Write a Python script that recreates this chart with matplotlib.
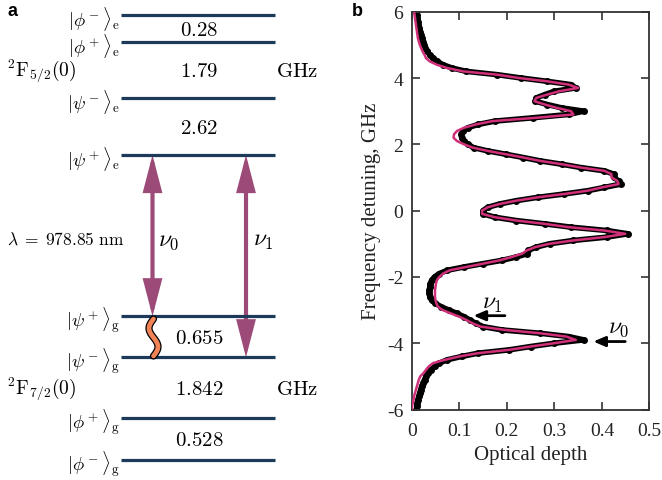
import numpy as np
import matplotlib
matplotlib.use("Agg")
import matplotlib.pyplot as plt
from matplotlib.patches import FancyArrowPatch

plt.rcParams['mathtext.fontset'] = 'cm'

# ---------------- data ----------------
upper_levels = [r'$|\phi^-\rangle_{\rm e}$', r'$|\phi^+\rangle_{\rm e}$',
                r'$|\psi^-\rangle_{\rm e}$', r'$|\psi^+\rangle_{\rm e}$']
upper_splittings = ['0.28', '1.79', '2.62']
lower_levels = [r'$|\psi^+\rangle_{\rm g}$', r'$|\psi^-\rangle_{\rm g}$',
                r'$|\phi^+\rangle_{\rm g}$', r'$|\phi^-\rangle_{\rm g}$']
lower_splittings = ['0.655', '1.842', '0.528']
manifold_labels = [r'$^2\mathrm{F}_{5/2}(0)$', r'$^2\mathrm{F}_{7/2}(0)$']
wavelength_label = r'$\lambda\;=\;978.85\ \mathrm{nm}$'

freq = [6.0, 5.9, 5.8, 5.7, 5.6, 5.5, 5.4, 5.3, 5.2, 5.1, 5.0, 4.9, 4.8, 4.7, 4.6,
        4.5, 4.4, 4.3, 4.2, 4.1, 4.0, 3.9, 3.8, 3.7, 3.6, 3.5, 3.4, 3.3, 3.2, 3.1,
        3.0, 2.9, 2.8, 2.7, 2.6, 2.5, 2.4, 2.3, 2.2, 2.1, 2.0, 1.9, 1.8, 1.7, 1.6,
        1.5, 1.4, 1.3, 1.2, 1.1, 1.0, 0.9, 0.8, 0.7, 0.6, 0.5, 0.4, 0.3, 0.2, 0.1,
        0.0, -0.1, -0.2, -0.3, -0.4, -0.5, -0.6, -0.7, -0.8, -0.9, -1.0, -1.1, -1.2,
        -1.3, -1.4, -1.5, -1.6, -1.7, -1.8, -1.9, -2.0, -2.1, -2.2, -2.3, -2.4, -2.5,
        -2.6, -2.7, -2.8, -2.9, -3.0, -3.1, -3.2, -3.3, -3.4, -3.5, -3.6, -3.7, -3.8,
        -3.9, -4.0, -4.1, -4.2, -4.3, -4.4, -4.5, -4.6, -4.7, -4.8, -4.9, -5.0, -5.1,
        -5.2, -5.3, -5.4, -5.5, -5.6, -5.7, -5.8, -5.9, -6.0]

od_measured = [0.010, 0.011, 0.012, 0.013, 0.014, 0.016, 0.017, 0.019, 0.021, 0.023,
               0.026, 0.029, 0.033, 0.038, 0.045, 0.054, 0.066, 0.085, 0.115, 0.180,
               0.230, 0.285, 0.335, 0.345, 0.300, 0.280, 0.262, 0.260, 0.285, 0.315,
               0.362, 0.330, 0.255, 0.175, 0.140, 0.118, 0.108, 0.104, 0.105, 0.110,
               0.118, 0.130, 0.160, 0.198, 0.235, 0.270, 0.315, 0.355, 0.405, 0.425,
               0.425, 0.435, 0.440, 0.405, 0.370, 0.320, 0.265, 0.220, 0.185, 0.160,
               0.150, 0.150, 0.175, 0.220, 0.280, 0.335, 0.410, 0.455, 0.410, 0.340,
               0.290, 0.262, 0.245, 0.243, 0.220, 0.190, 0.150, 0.110, 0.075, 0.058,
               0.048, 0.042, 0.039, 0.038, 0.037, 0.037, 0.038, 0.042, 0.050, 0.062,
               0.078, 0.095, 0.110, 0.122, 0.135, 0.150, 0.190, 0.270, 0.330, 0.362,
               0.300, 0.250, 0.205, 0.140, 0.105, 0.075, 0.058, 0.048, 0.040, 0.034,
               0.030, 0.027, 0.024, 0.021, 0.019, 0.017, 0.015, 0.013, 0.012, 0.011,
               0.010]

od_fit = [0.005, 0.006, 0.007, 0.008, 0.009, 0.010, 0.011, 0.012, 0.013, 0.015,
          0.017, 0.020, 0.023, 0.027, 0.030, 0.038, 0.053, 0.075, 0.108, 0.180,
          0.225, 0.285, 0.330, 0.350, 0.310, 0.285, 0.262, 0.258, 0.280, 0.305,
          0.335, 0.340, 0.262, 0.170, 0.135, 0.110, 0.095, 0.089, 0.088, 0.095,
          0.110, 0.128, 0.160, 0.198, 0.235, 0.270, 0.315, 0.355, 0.405, 0.420,
          0.420, 0.432, 0.435, 0.400, 0.370, 0.320, 0.265, 0.220, 0.185, 0.160,
          0.148, 0.148, 0.175, 0.220, 0.280, 0.330, 0.405, 0.449, 0.405, 0.340,
          0.290, 0.260, 0.242, 0.232, 0.210, 0.185, 0.150, 0.115, 0.080, 0.066,
          0.058, 0.053, 0.051, 0.050, 0.049, 0.049, 0.049, 0.050, 0.052, 0.055,
          0.065, 0.082, 0.100, 0.115, 0.128, 0.145, 0.196, 0.270, 0.325, 0.345,
          0.300, 0.250, 0.205, 0.140, 0.100, 0.070, 0.045, 0.036, 0.030, 0.025,
          0.018, 0.015, 0.013, 0.011, 0.009, 0.007, 0.005, 0.004, 0.002, 0.001,
          0.000]

xticks = [0, 0.1, 0.2, 0.3, 0.4, 0.5]
xticklabels = ['0', '0.1', '0.2', '0.3', '0.4', '0.5']
yticks = [6, 4, 2, 0, -2, -4, -6]
yticklabels = ['6', '4', '2', '0', '-2', '-4', '-6']

# ---------------- styles ----------------
LEVEL_COLOR = '#1d3a5a'
ARROW_COLOR = '#9c4a78'
FIT_COLOR = '#d0307a'
WAVE_COLOR = '#f08456'

W, H = 662, 481
fig = plt.figure(figsize=(W / 100, H / 100), dpi=100)

# ---------------- panel a (schematic, pixel coords) ----------------
axa = fig.add_axes([0, 0, 1, 1])
axa.set_xlim(0, W)
axa.set_ylim(H, 0)
axa.axis('off')

level_y_upper = [16, 43.3, 99, 156]
level_y_lower = [317.3, 358.3, 419, 460.7]
x0, x1 = 121, 275

for names, ys in ((upper_levels, level_y_upper), (lower_levels, level_y_lower)):
    for name, y in zip(names, ys):
        axa.plot([x0, x1], [y, y], color=LEVEL_COLOR, lw=2.3, solid_capstyle='butt')
        axa.text(120, y + 3, name, ha='right', va='center', fontsize=13.5)

for labels, ys in ((upper_splittings, level_y_upper), (lower_splittings, level_y_lower)):
    for lab, ya, yb in zip(labels, ys[:-1], ys[1:]):
        axa.text(199, (ya + yb) / 2, r'$%s$' % lab, ha='center', va='center', fontsize=15)

for lab, y in zip(manifold_labels, [71, 389]):
    axa.text(7, y, lab, ha='left', va='center', fontsize=14)
    axa.text(297, y, r'$\mathrm{GHz}$', ha='center', va='center', fontsize=15)

axa.text(7, 240, wavelength_label, ha='left', va='center', fontsize=12.5)

# transition arrows
for xa, ya, yb, lab, xl in ((152.5, 156, 317.3, r'$\nu_0$', 158),
                            (246, 156, 358.3, r'$\nu_1$', 253)):
    arr = FancyArrowPatch((xa, yb), (xa, ya),
                          arrowstyle='<|-|>,head_length=20,head_width=5.2',
                          mutation_scale=1, color=ARROW_COLOR, lw=3,
                          shrinkA=0, shrinkB=0, joinstyle='miter')
    axa.add_patch(arr)
    axa.text(xl, 240, lab, ha='left', va='center', fontsize=17)

# wavy coupling line
t = np.linspace(0, 1, 60)
wx = 153.5 - 4.5 * np.sin(2 * np.pi * t)
wy = 320 + 37 * t
axa.plot(wx, wy, color='k', lw=5.2, solid_capstyle='round', zorder=5)
axa.plot(wx, wy, color=WAVE_COLOR, lw=3.4, solid_capstyle='round', zorder=6)

axa.text(8, 11, 'a', fontsize=13, fontweight='bold', family='Liberation Sans',
         ha='left', va='center')
axa.text(352, 11, 'b', fontsize=13, fontweight='bold', family='Liberation Sans',
         ha='left', va='center')

# ---------------- panel b ----------------
l, r, t_, b = 411.7, 649.5, 12.7, 410.5
axb = fig.add_axes([l / W, 1 - b / H, (r - l) / W, (b - t_) / H])
axb.plot(od_measured, freq, color='k', lw=4.0, zorder=2)
axb.plot(od_measured, freq, 'o', color='k', ms=4.0, zorder=2)
axb.plot(od_fit, freq, color=FIT_COLOR, lw=1.8, zorder=3)
axb.set_xlim(0, 0.5)
axb.set_ylim(-6, 6)
axb.set_xticks(xticks)
axb.set_xticklabels(xticklabels)
axb.set_yticks(yticks)
axb.set_yticklabels(yticklabels)
serif = 'Liberation Serif'
for lab in axb.get_xticklabels() + axb.get_yticklabels():
    lab.set_family(serif)
    lab.set_fontsize(14)
    lab.set_color('#222222')
axb.tick_params(axis='both', direction='in', top=True, right=True, length=6, width=1.2,
                color='#333333')
axb.tick_params(axis='x', pad=9)
axb.tick_params(axis='y', pad=6)
for s in axb.spines.values():
    s.set_color('#333333')
    s.set_linewidth(1.3)
axb.set_xlabel('Optical depth', family=serif, fontsize=15, color='#222222', labelpad=4)
axb.set_ylabel('Frequency detuning, GHz', family=serif, fontsize=15, color='#222222',
               labelpad=4)

# nu markers
axb.annotate('', xy=(0.130, -3.17), xytext=(0.196, -3.17),
             arrowprops=dict(arrowstyle='-|>,head_length=0.7,head_width=0.3',
                             color='k', lw=2, shrinkA=0, shrinkB=0))
axb.text(0.17, -2.75, r'$\nu_1$', fontsize=17, ha='center', va='center')
axb.annotate('', xy=(0.382, -3.95), xytext=(0.449, -3.95),
             arrowprops=dict(arrowstyle='-|>,head_length=0.7,head_width=0.3',
                             color='k', lw=2, shrinkA=0, shrinkB=0))
axb.text(0.435, -3.48, r'$\nu_0$', fontsize=17, ha='center', va='center')

fig.savefig('out.png', dpi=100)
